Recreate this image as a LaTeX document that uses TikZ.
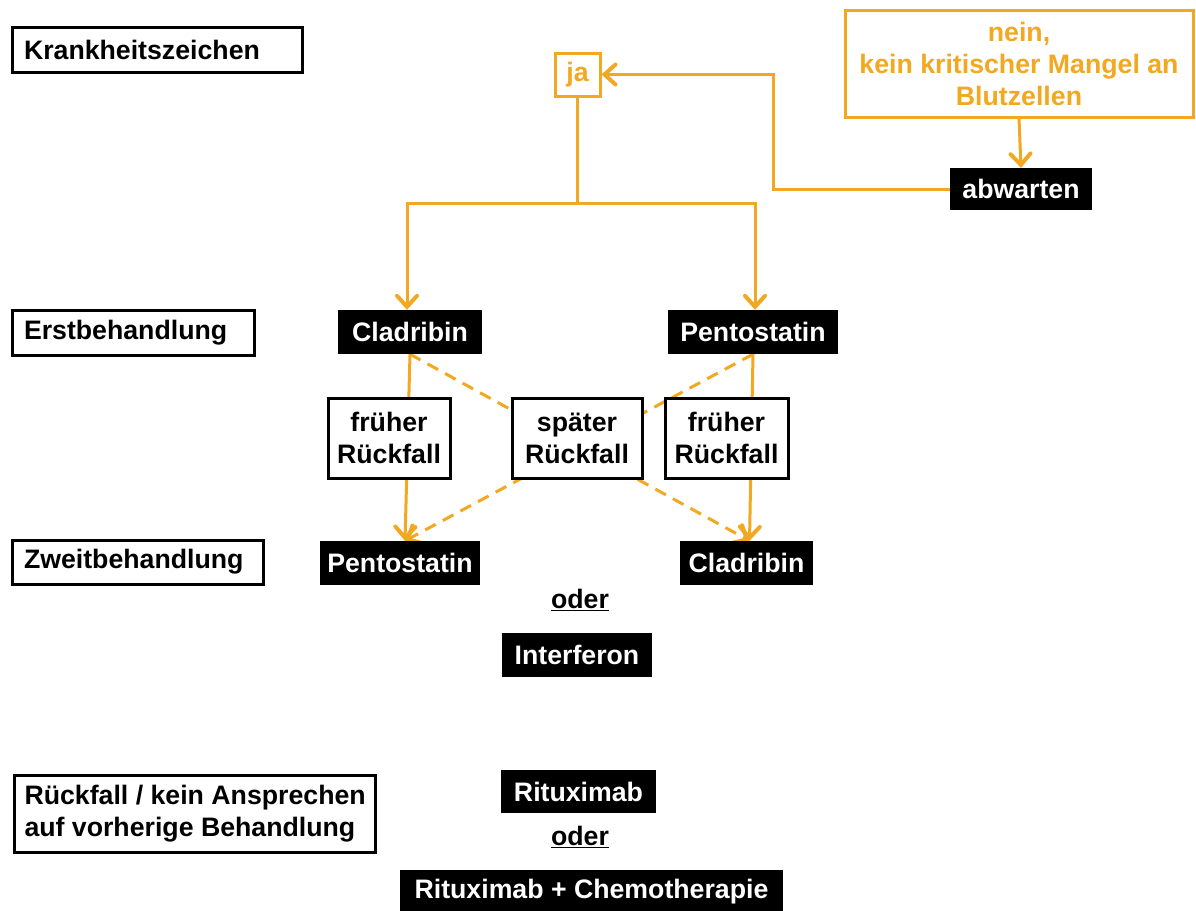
\documentclass[tikz,border=0pt]{standalone}
\usepackage{fontspec}
\setmainfont{Liberation Sans}
\usetikzlibrary{arrows.meta}
\definecolor{org}{RGB}{242,168,32}
\pgfdeclarelayer{bg}
\pgfsetlayers{bg,main}
\tikzset{
  txt/.style={font=\fontsize{26.7}{32}\selectfont\bfseries},
  lbl/.style={txt,draw=black,line width=3pt,fill=white,inner xsep=12pt,inner ysep=0pt,align=left},
  blk/.style={txt,fill=black,text=white,inner sep=0pt,align=center},
  wbox/.style={txt,draw=black,line width=3pt,fill=white,inner sep=0pt,align=center},
  obox/.style={txt,draw=org,text=org,line width=3pt,fill=white,inner sep=0pt,align=center},
  conn/.style={draw=org,line width=3pt},
  arr/.style={conn,-{Straight Barb[length=11pt,width=20pt,line width=4pt,line cap=round]}},
  darr/.style={arr,dash pattern=on 12pt off 8pt},
}
\begin{document}
\begin{tikzpicture}[x=1pt,y=-1pt]
\useasboundingbox (0,0) rectangle (1196,910);
% labels
\node[lbl,text width=266pt,minimum height=45pt] (krank) at (157,49.5) {Krankheitszeichen};
\node[lbl,text width=218pt,minimum height=45pt] (erst) at (133,332.5) {Erstbehandlung};
\node[lbl,text width=227pt,minimum height=44pt] (zweit) at (137.5,562) {Zweitbehandlung};
\node[lbl,anchor=west,inner xsep=10pt,minimum height=77pt] (rueck) at (13,813.5) {R\"uckfall / kein Ansprechen\\auf vorherige Behandlung};
% orange top
\node[obox,minimum width=45pt,minimum height=43pt] (ja) at (577.5,74.5) {ja};
\node[obox,minimum width=348pt,minimum height=107pt] (nein) at (1019,63.5) {nein,\\kein kritischer Mangel an\\Blutzellen};
\node[blk,minimum width=142pt,minimum height=42pt] (abw) at (1021,189) {abwarten};
% treatments
\node[blk,minimum width=144pt,minimum height=44pt] (clad1) at (410,332) {Cladribin};
\node[blk,minimum width=170pt,minimum height=44pt] (pent1) at (753,332) {Pentostatin};
\node[wbox,minimum width=122pt,minimum height=80pt] (fr1) at (389,438) {fr\"uher\\R\"uckfall};
\node[wbox,minimum width=130pt,minimum height=80pt] (sp) at (577,438) {sp\"ater\\R\"uckfall};
\node[wbox,minimum width=123pt,minimum height=80pt] (fr2) at (726.5,438) {fr\"uher\\R\"uckfall};
\node[blk,minimum width=160pt,minimum height=44pt] (pent2) at (400,563) {Pentostatin};
\node[blk,minimum width=133pt,minimum height=44pt] (clad2) at (746.5,563) {Cladribin};
\node[txt] (oder1) at (580,600) {\underline{oder}};
\node[blk,minimum width=150pt,minimum height=44pt] (interf) at (577,655) {Interferon};
\node[blk,minimum width=155pt,minimum height=43pt] (ritu) at (578.5,791.5) {Rituximab};
\node[txt] (oder2) at (580,837) {\underline{oder}};
\node[blk,minimum width=383pt,minimum height=44pt] (rchemo) at (591.5,892) {Rituximab + Chemotherapie};
% connectors
\coordinate (turn) at (773,189);
\coordinate (split) at (577.5,203);
\begin{pgfonlayer}{bg}
\fill[white] (0,0) rectangle (1196,910);
\draw[arr] (nein.south) -- (abw.north);
\draw[arr] (abw.west) -- (turn) |- (ja.east);
\draw[conn] (ja.south) -- (split);
\draw[arr] (split) -| ([xshift=-3pt]clad1.north);
\draw[arr] (split) -| ([xshift=2pt]pent1.north);
\draw[arr] (clad1.south) -- ([xshift=5pt]pent2.north);
\draw[arr] (pent1.south) -- ([xshift=3pt]clad2.north);
\draw[darr] (clad1.south) -- ([xshift=3pt]clad2.north);
\draw[darr] (pent1.south) -- ([xshift=5pt]pent2.north);
\end{pgfonlayer}
\end{tikzpicture}
\end{document}
